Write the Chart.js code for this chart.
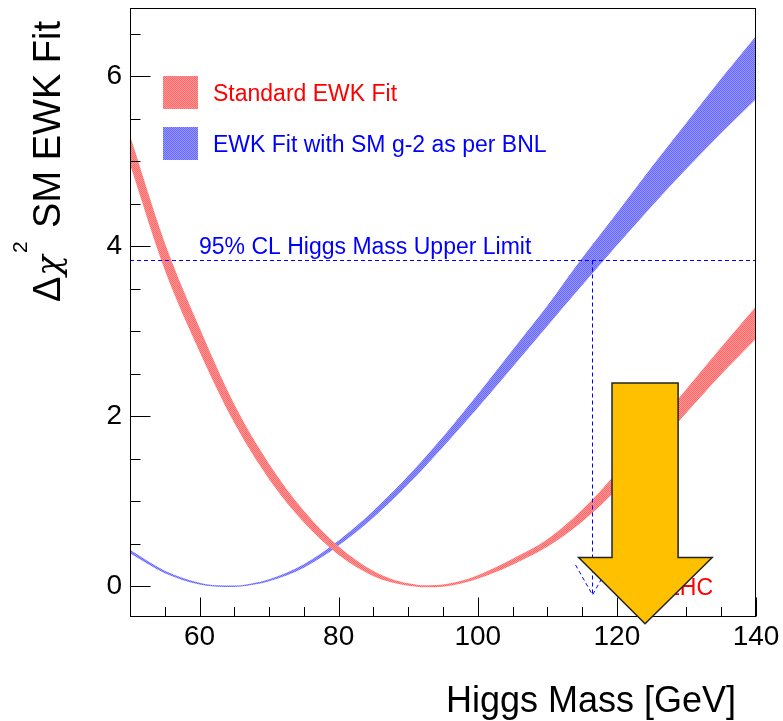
<!DOCTYPE html>
<html><head><meta charset="utf-8">
<script src="https://cdn.jsdelivr.net/npm/chart.js"></script>
<style>html,body{margin:0;padding:0;background:#fff}canvas{display:block}</style>
</head><body>
<canvas id="c" width="783" height="721"></canvas>
<script>
// ---- data ----
const stdMasses = [50,55,60,65,70,75,80,85,87.5,90,92.5,95,97.5,100,105,110,115,120,125,130,135,140];
const stdUpper  = [5.30,4.04,3.04,2.14,1.44,0.89,0.47,0.18,0.09,0.037,0.013,0.021,0.062,0.13,0.325,0.555,0.90,1.34,1.82,2.32,2.81,3.29];
const stdLower  = [4.96,3.72,2.76,1.92,1.26,0.75,0.37,0.12,0.05,0.007,-0.011,-0.003,0.032,0.09,0.255,0.465,0.76,1.14,1.58,2.04,2.49,2.91];
const bnlMasses = [50,55,60,62.5,65,67.5,70,75,80,85,90,95,100,105,110,115,120,125,130,135,140];
const bnlUpper  = [0.43,0.185,0.042,0.013,0.010,0.035,0.084,0.26,0.54,0.89,1.30,1.76,2.26,2.78,3.30,3.86,4.39,4.93,5.45,5.97,6.47];
const bnlLower  = [0.39,0.155,0.022,-0.003,-0.006,0.015,0.060,0.22,0.48,0.81,1.20,1.64,2.10,2.58,3.06,3.54,4.01,4.47,4.91,5.33,5.73];
const xTickLabels = [60,80,100,120,140];
const xMinorTicks = [55,65,70,75,85,90,95,105,110,115,125,130,135];
const yTickLabels = [0,2,4,6];
const yMinorTicks = [0.5,1,1.5,2.5,3,3.5,4.5,5,5.5,6.5];
const limitChi2 = 3.84;     // 95% CL line
const limitMass = 116.4;    // upper limit mass
const limitArrowEnd = -0.1; // where the dashed arrow ends
// LHC block arrow (data coordinates)
const lhcShaft = [119.3, 128.8];
const lhcShaftTop = 2.39;
const lhcHead = [114.5, 133.7];
const lhcHeadBase = 0.34;
const lhcTip = [124.05, -0.44];

const FONT = '"Liberation Sans", Arial, Helvetica, sans-serif';
const canvas = document.getElementById('c');
const ctx0 = canvas.getContext('2d');
function makePattern(c1, c2){
  const c = document.createElement('canvas'); c.width = 2; c.height = 2;
  const g = c.getContext('2d');
  g.fillStyle = c2; g.fillRect(0,0,2,2);
  g.fillStyle = c1; g.fillRect(0,0,1,1); g.fillRect(1,1,1,1);
  return ctx0.createPattern(c,'repeat');
}
const redPat = makePattern('rgb(255,105,105)', 'rgb(255,150,150)');
const bluePat = makePattern('rgb(105,105,255)', 'rgb(150,150,255)');
const pts = (ms, arr) => ms.map((m,i)=>({x:m,y:arr[i]}));
const band = (data, fill, bg) => ({data, fill, backgroundColor:bg, borderColor:'rgba(0,0,0,0)', borderWidth:0,
  pointRadius:0, cubicInterpolationMode:'monotone'});

const overlay = {
  id:'overlay',
  afterDraw(chart){
    const {ctx, chartArea:a, scales:{x,y}} = chart;
    ctx.save();
    // dashed limit lines
    ctx.strokeStyle = '#0000ff'; ctx.lineWidth = 1; ctx.setLineDash([4,3]);
    const ly = Math.round(y.getPixelForValue(limitChi2)) + 0.5;
    const lx = Math.round(x.getPixelForValue(limitMass)) + 0.5;
    const ty = y.getPixelForValue(limitArrowEnd);
    ctx.beginPath(); ctx.moveTo(a.left, ly); ctx.lineTo(a.right, ly); ctx.stroke();
    ctx.beginPath(); ctx.moveTo(lx, ly); ctx.lineTo(lx, ty); ctx.stroke();
    ctx.beginPath(); ctx.moveTo(lx-17, ty-30); ctx.lineTo(lx, ty); ctx.lineTo(lx+17, ty-30); ctx.stroke();
    ctx.setLineDash([]);
    // texts
    ctx.textBaseline = 'alphabetic';
    ctx.font = '23px ' + FONT;
    ctx.fillStyle = '#0000ff'; ctx.textAlign = 'left';
    ctx.fillText('95% CL Higgs Mass Upper Limit', 199, 254);
    ctx.fillStyle = '#ff0000'; ctx.textAlign = 'right';
    ctx.fillText('LHC', 713, 595);
    // legend
    ctx.textAlign = 'left';
    ctx.fillStyle = redPat; ctx.fillRect(163, 76, 35, 33);
    ctx.fillStyle = bluePat; ctx.fillRect(163, 127, 35, 33);
    ctx.fillStyle = '#ff0000'; ctx.fillText('Standard EWK Fit', 213, 101);
    ctx.fillStyle = '#0000ff'; ctx.fillText('EWK Fit with SM g-2 as per BNL', 213, 152);
    // frame
    ctx.strokeStyle = '#000'; ctx.lineWidth = 1;
    ctx.strokeRect(a.left+0.5, a.top+0.5, a.right-a.left-1, a.bottom-a.top-1);
    // ticks
    ctx.beginPath();
    const bx = a.bottom - 0.5;
    xTickLabels.forEach(v=>{const p=Math.round(x.getPixelForValue(v))+0.5; ctx.moveTo(p,bx); ctx.lineTo(p,bx-19);});
    xMinorTicks.forEach(v=>{const p=Math.round(x.getPixelForValue(v))+0.5; ctx.moveTo(p,bx); ctx.lineTo(p,bx-9.5);});
    const lxx = a.left + 0.5;
    yTickLabels.forEach(v=>{const p=Math.round(y.getPixelForValue(v))+0.5; ctx.moveTo(lxx,p); ctx.lineTo(lxx+20,p);});
    yMinorTicks.forEach(v=>{const p=Math.round(y.getPixelForValue(v))+0.5; ctx.moveTo(lxx,p); ctx.lineTo(lxx+10,p);});
    ctx.stroke();
    // axis titles
    ctx.fillStyle = '#000';
    ctx.font = '36px ' + FONT; ctx.textAlign = 'right';
    ctx.fillText('Higgs Mass [GeV]', 736, 712);
    ctx.save();
    const F1 = '38px ' + FONT, FCHI = 'italic 34px "DejaVu Serif", "DejaVu Sans", serif', FSUP = '21px ' + FONT;
    ctx.font = F1;
    const wD = ctx.measureText('\u0394').width;
    const w3 = ctx.measureText(' SM EWK Fit').width;
    ctx.font = FCHI;
    const wC = ctx.measureText('\u03c7').width;
    ctx.font = FSUP;
    const w2 = ctx.measureText('2').width;
    const gap = 3;
    const total = wD + 1 + wC + 2 + w2 + gap + w3;
    ctx.translate(60, 21 + total);
    ctx.rotate(-Math.PI/2);
    ctx.textAlign = 'left';
    ctx.font = F1; ctx.fillText('\u0394', 0, 0);
    ctx.font = FCHI; ctx.fillText('\u03c7', wD + 1, 0);
    ctx.font = FSUP; ctx.fillText('2', wD + 1 + wC + 2, -33);
    ctx.font = F1; ctx.fillText(' SM EWK Fit', wD + 1 + wC + 2 + w2 + gap, 0);
    ctx.restore();
    // LHC block arrow
    const X = v => x.getPixelForValue(v), Y = v => y.getPixelForValue(v);
    ctx.beginPath();
    ctx.moveTo(X(lhcShaft[0]), Y(lhcShaftTop));
    ctx.lineTo(X(lhcShaft[1]), Y(lhcShaftTop));
    ctx.lineTo(X(lhcShaft[1]), Y(lhcHeadBase));
    ctx.lineTo(X(lhcHead[1]), Y(lhcHeadBase));
    ctx.lineTo(X(lhcTip[0]), Y(lhcTip[1]));
    ctx.lineTo(X(lhcHead[0]), Y(lhcHeadBase));
    ctx.lineTo(X(lhcShaft[0]), Y(lhcHeadBase));
    ctx.closePath();
    ctx.fillStyle = '#ffc000'; ctx.fill();
    ctx.strokeStyle = '#222'; ctx.lineWidth = 1.5; ctx.lineJoin = 'miter'; ctx.stroke();
    ctx.restore();
  }
};

new Chart(canvas, {
  type:'line',
  data:{datasets:[
    band(pts(stdMasses, stdUpper), '+1', redPat),
    band(pts(stdMasses, stdLower), false, 'rgba(0,0,0,0)'),
    band(pts(bnlMasses, bnlUpper), '+1', bluePat),
    band(pts(bnlMasses, bnlLower), false, 'rgba(0,0,0,0)')
  ]},
  options:{
    responsive:false, animation:false, devicePixelRatio:1,
    layout:{padding:{top:8,right:27,left:0,bottom:0}},
    plugins:{legend:{display:false}, tooltip:{enabled:false}},
    scales:{
      x:{type:'linear', min:50, max:140,
        grid:{display:false, drawTicks:false}, border:{display:false},
        afterBuildTicks:s=>{s.ticks = xTickLabels.map(v=>({value:v}));},
        afterFit:s=>{s.height = 104; s.paddingLeft = 0; s.paddingRight = 0;},
        ticks:{font:{family:FONT, size:28}, color:'#000', padding:3, maxRotation:0, autoSkip:false, callback:v=>String(v)}},
      y:{type:'linear', min:-0.36, max:6.80,
        grid:{display:false, drawTicks:false}, border:{display:false},
        afterBuildTicks:s=>{s.ticks = yTickLabels.map(v=>({value:v}));},
        afterFit:s=>{s.width = 130; s.paddingTop = 0; s.paddingBottom = 0;},
        ticks:{font:{family:FONT, size:28}, color:'#000', padding:8, autoSkip:false, callback:v=>String(v)}}
    }
  },
  plugins:[overlay]
});
</script>
</body></html>
